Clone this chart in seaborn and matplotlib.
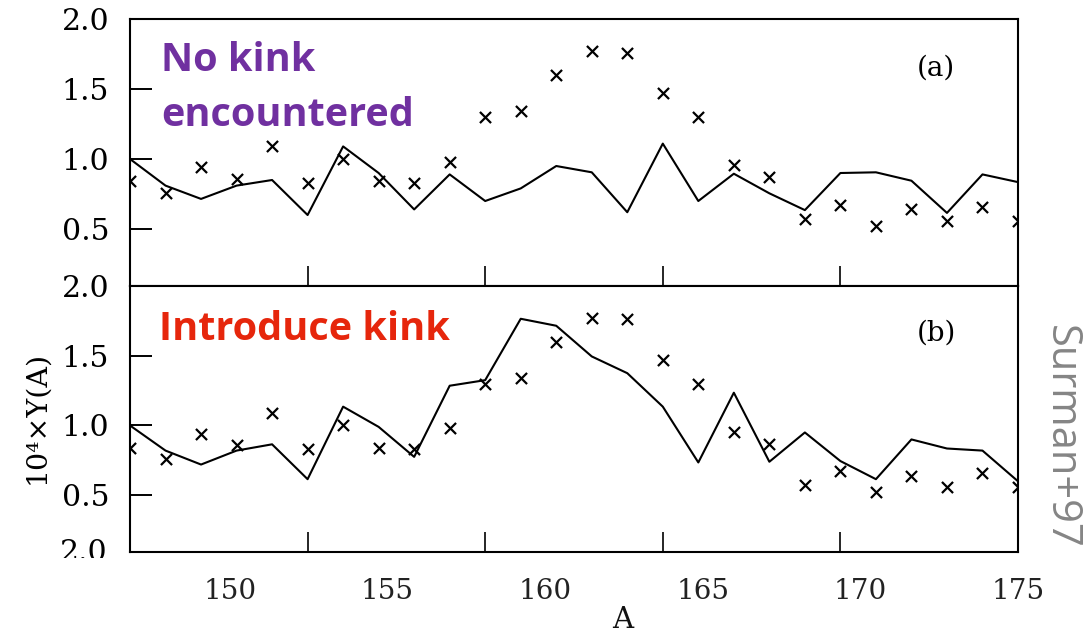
import matplotlib
matplotlib.use("Agg")
import matplotlib.pyplot as plt
from matplotlib.patches import Rectangle
import seaborn as sns

# ---------------- data ----------------
mass_number = list(range(150, 176))
observed = [0.84, 0.76, 0.94, 0.86, 1.09, 0.83, 1.00, 0.84, 0.83, 0.98,
            1.30, 1.34, 1.60, 1.77, 1.76, 1.47, 1.30, 0.955, 0.87, 0.57,
            0.675, 0.52, 0.64, 0.56, 0.66, 0.56]
model_no_kink = [1.00, 0.81, 0.715, 0.81, 0.85, 0.60, 1.09, 0.90, 0.64, 0.89,
                 0.70, 0.79, 0.95, 0.905, 0.62, 1.11, 0.70, 0.895, 0.755, 0.635,
                 0.90, 0.905, 0.845, 0.615, 0.89, 0.835]
model_kink = [1.00, 0.82, 0.72, 0.82, 0.865, 0.615, 1.135, 0.99, 0.775, 1.285,
              1.325, 1.765, 1.715, 1.495, 1.375, 1.135, 0.735, 1.235, 0.74, 0.95,
              0.745, 0.615, 0.90, 0.835, 0.82, 0.60]
ytick_vals = [0.5, 1.0, 1.5, 2.0]
ytick_labels = ["0.5", "1.0", "1.5", "2.0"]
panel_xticks = [155, 160, 165, 170]
bottom_tick_vals = [150, 155, 160, 165, 170, 175]
bottom_tick_labels = ["150", "155", "160", "165", "170", "175"]

# ---------------- style ----------------
sns.set_theme(style="white")
plt.rcParams["font.family"] = ["DejaVu Serif"]

W, H = 1091, 637
fig = plt.figure(figsize=(W / 100, H / 100), dpi=100)
fig.patch.set_facecolor("white")


def fx(px):
    return px / W


def fy(py):
    return 1 - py / H


def make_panel(top, bottom):
    ax = fig.add_axes([fx(130), fy(bottom), fx(1018) - fx(130), fy(top) - fy(bottom)])
    ax.set_facecolor("white")
    return ax


ax_a = make_panel(19, 286)
ax_b = make_panel(286, 552)

for ax, model in ((ax_a, model_no_kink), (ax_b, model_kink)):
    sns.lineplot(x=mass_number, y=model, ax=ax, color="black", linewidth=1.5,
                 estimator=None, sort=False)
    sns.scatterplot(x=mass_number, y=observed, ax=ax, marker="x", color="black",
                    s=64, linewidth=1.6)
    ax.set_xlim(150, 175)
    ax.set_ylim(0.093, 2.0)
    ax.set_yticks(ytick_vals)
    ax.set_yticklabels(ytick_labels)
    ax.set_xticks(panel_xticks)
    ax.set_xticklabels([])
    ax.tick_params(axis="y", direction="in", length=16, width=1.4, pad=15,
                   labelsize=21.5, colors="black", left=True, right=False)
    ax.tick_params(axis="x", direction="in", length=14.5, width=1.4,
                   bottom=True, top=False, labelbottom=False)
    for s in ax.spines.values():
        s.set_visible(True)
        s.set_color("black")
        s.set_linewidth(1.5)
    ax.set_xlabel("")
    ax.set_ylabel("")

# bottom tick labels (pasted scale)
ax_lab = fig.add_axes([fx(130), fy(552), fx(1018) - fx(130), fy(286) - fy(552)])
ax_lab.set_xlim(146.84, 174.94)
ax_lab.patch.set_alpha(0)
for s in ax_lab.spines.values():
    s.set_visible(False)
ax_lab.set_yticks([])
ax_lab.set_xticks(bottom_tick_vals)
ax_lab.set_xticklabels(bottom_tick_labels)
ax_lab.tick_params(axis="x", length=0, pad=19, labelsize=20, colors="#222222")

# axis labels
fig.text(fx(623), fy(620), "A", ha="center", va="center", fontsize=21, color="#111111")
fig.text(fx(37), fy(417), "10⁴×Y(A)", rotation=90, ha="center", va="center",
         fontsize=20.5, color="black")

# partial "2.0" of third panel
fig.text(fx(108), fy(553), "2.0", ha="right", va="center", fontsize=21.5, color="black")
fig.add_artist(Rectangle((0, 0), fx(127), fy(557.5), transform=fig.transFigure,
                         facecolor="white", edgecolor="none", zorder=20))

# panel tags
fig.text(fx(936), fy(68), "(a)", ha="center", va="center", fontsize=20, color="black")
fig.text(fx(936), fy(333), "(b)", ha="center", va="center", fontsize=20, color="black")

# annotations
purple = "#7030A0"
red = "#E6260C"
fig.text(fx(161), fy(71), "No kink", ha="left", va="baseline", fontsize=28.5,
         fontweight="bold", color=purple, family="Open Sans")
fig.text(fx(161), fy(126), "encountered", ha="left", va="baseline", fontsize=28.5,
         fontweight="bold", color=purple, family="Open Sans")
fig.text(fx(159), fy(340), "Introduce kink", ha="left", va="baseline", fontsize=28.5,
         fontweight="bold", color=red, family="Open Sans")

fig.text(fx(1061), fy(437), "Surman+97", rotation=-90, ha="center", va="center",
         fontsize=30, color="#858585", family="Open Sans")

fig.savefig("out.png", dpi=100, facecolor="white")
